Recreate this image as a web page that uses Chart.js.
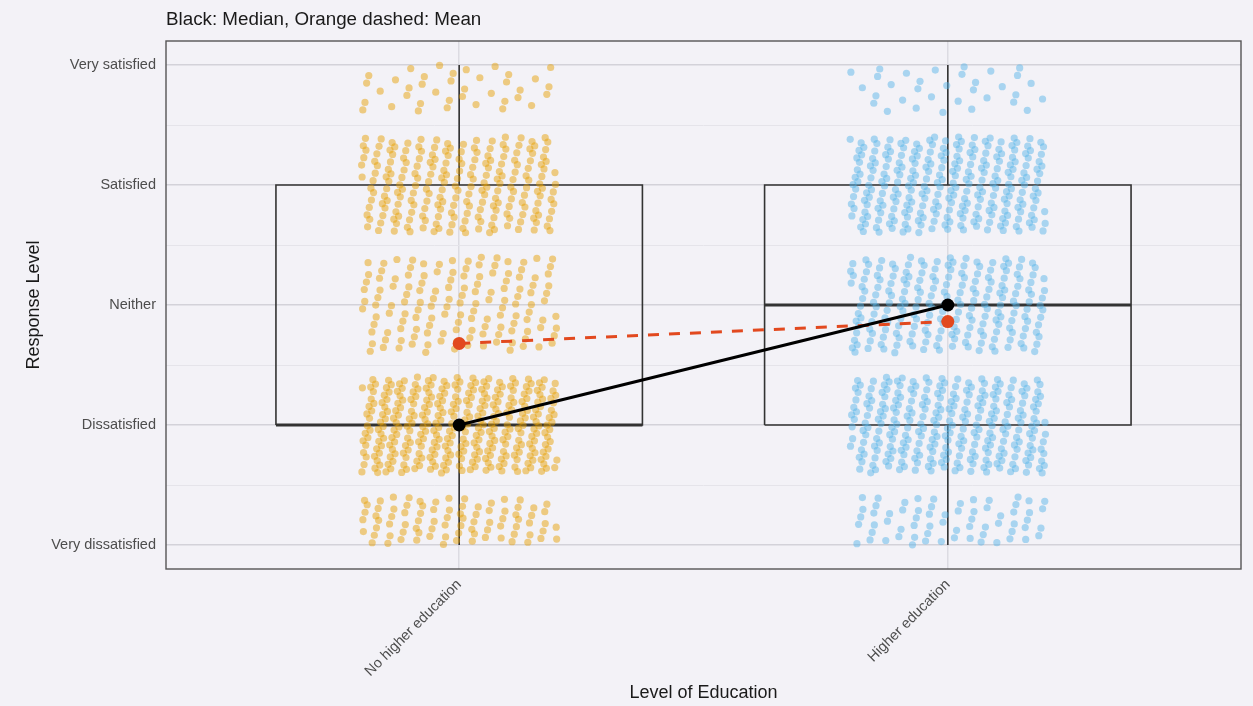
<!DOCTYPE html>
<html>
<head>
<meta charset="utf-8">
<title>Response Level by Level of Education</title>
<script src="https://cdn.jsdelivr.net/npm/chart.js@4.4.1/dist/chart.umd.min.js"></script>
<style>
  html, body { margin: 0; padding: 0; background: #f3f2f7; }
  #wrap { width: 1253px; height: 706px; }
</style>
</head>
<body>
<div id="wrap"><canvas id="eduChart" width="1253" height="706"></canvas></div>
<script>
// --- data ---
const categories = ['No higher education', 'Higher education'];
const levels = ['Very dissatisfied', 'Dissatisfied', 'Neither', 'Satisfied', 'Very satisfied'];
// respondents per response level (estimated from point density, mean and median)
const countsNoHigher = [170, 330, 140, 220, 75];
const countsHigher = [125, 275, 210, 265, 65];
const groupCounts = [countsNoHigher, countsHigher];

const titleText = 'Black: Median, Orange dashed: Mean';
const pointColors = ['rgba(230, 159, 0, 0.48)', 'rgba(86, 180, 233, 0.48)'];
const meanColor = '#e2491f';
const boxColor = '#333333';

// expand counts into individual answers (1..5)
function expand(counts) {
    const out = [];
    counts.forEach((n, i) => { for (let k = 0; k < n; k++) out.push(i + 1); });
    return out;
}

// quantile type 7 (same as R default)
function quantile(sorted, p) {
    const h = (sorted.length - 1) * p;
    const lo = Math.floor(h);
    const hi = Math.min(lo + 1, sorted.length - 1);
    return sorted[lo] + (h - lo) * (sorted[hi] - sorted[lo]);
}

const stats = groupCounts.map(counts => {
    const vals = expand(counts);
    const q1 = quantile(vals, 0.25);
    const med = quantile(vals, 0.5);
    const q3 = quantile(vals, 0.75);
    const iqr = q3 - q1;
    const lo = Math.min(...vals.filter(v => v >= q1 - 1.5 * iqr));
    const hi = Math.max(...vals.filter(v => v <= q3 + 1.5 * iqr));
    const mean = vals.reduce((a, b) => a + b, 0) / vals.length;
    return { vals, q1, med, q3, lo, hi, mean };
});

// jitter is only a display spread: a fixed low-discrepancy sequence, no randomness
const jitterW = 0.2, jitterH = 0.4;
let seq = 0;
function nextJitter() {
    seq++;
    const u = (0.5 + 0.7548776662466927 * seq) % 1;
    const v = (0.5 + 0.5698402909980532 * seq) % 1;
    return [(u * 2 - 1) * jitterW, (v * 2 - 1) * jitterH];
}

const pointSets = stats.map((s, gi) => {
    const pts = [];
    s.vals.forEach(v => {
        const [dx, dy] = nextJitter();
        const y = v + dy;
        if (y >= 1 && y <= 5) pts.push({ x: gi + 1 + dx, y: y });
    });
    return pts;
});

const halfBox = 0.375;
const datasets = [];

stats.forEach((s, gi) => {
    const c = gi + 1;
    // box outline + whiskers (null breaks the line)
    datasets.push({
        data: [
            { x: c - halfBox, y: s.q1 }, { x: c + halfBox, y: s.q1 },
            { x: c + halfBox, y: s.q3 }, { x: c - halfBox, y: s.q3 },
            { x: c - halfBox, y: s.q1 }, { x: c, y: null },
            { x: c, y: s.q3 }, { x: c, y: s.hi }, { x: c, y: null },
            { x: c, y: s.lo }, { x: c, y: s.q1 }
        ],
        showLine: true, spanGaps: false, pointRadius: 0,
        borderColor: boxColor, borderWidth: 1.6, order: 4
    });
    datasets.push({
        data: [{ x: c - halfBox, y: s.med }, { x: c + halfBox, y: s.med }],
        showLine: true, pointRadius: 0,
        borderColor: boxColor, borderWidth: 3, order: 4
    });
});

pointSets.forEach((pts, gi) => {
    datasets.push({
        data: pts,
        pointRadius: 3.6,
        backgroundColor: pointColors[gi],
        borderWidth: 0,
        order: 3
    });
});

datasets.push({
    data: stats.map((s, gi) => ({ x: gi + 1, y: s.mean })),
    showLine: true,
    borderColor: meanColor, borderWidth: 3, borderDash: [11, 10],
    pointRadius: 6.5, pointBackgroundColor: meanColor, pointBorderWidth: 0,
    order: 1
});
datasets.push({
    data: stats.map((s, gi) => ({ x: gi + 1, y: s.med })),
    showLine: true,
    borderColor: '#000000', borderWidth: 3,
    pointRadius: 6.5, pointBackgroundColor: '#000000', pointBorderWidth: 0,
    order: 0
});

const framePlugin = {
    id: 'frame',
    afterDraw(chart) {
        const { ctx, chartArea: a } = chart;
        ctx.save();
        ctx.strokeStyle = '#555555';
        ctx.lineWidth = 1.4;
        ctx.strokeRect(a.left, a.top, a.right - a.left, a.bottom - a.top);
        ctx.fillStyle = '#1a1a1a';
        ctx.font = '18.8px "Liberation Sans", Arial, sans-serif';
        ctx.textBaseline = 'middle';
        ctx.textAlign = 'left';
        ctx.fillText(titleText, a.left, 20);
        ctx.restore();
    }
};

Chart.defaults.font.family = '"Liberation Sans", Arial, sans-serif';

new Chart(document.getElementById('eduChart').getContext('2d'), {
    type: 'scatter',
    data: { datasets: datasets },
    options: {
        responsive: false,
        animation: false,
        events: [],
        layout: { padding: { top: 41, right: 12, left: 0, bottom: 0 } },
        plugins: { legend: { display: false }, tooltip: { enabled: false } },
        scales: {
            x: {
                type: 'linear', min: 0.4, max: 2.6,
                afterBuildTicks: s => { s.ticks = categories.map((c, i) => ({ value: i + 1 })); },
                afterFit: s => { s.height = 137; },
                grid: { color: '#dcdbe2', lineWidth: 1.5, drawTicks: false },
                border: { display: false },
                ticks: {
                    autoSkip: false, minRotation: 45, maxRotation: 45, padding: 7,
                    color: '#4d4d4d', font: { size: 14.5 },
                    callback: (v, i) => categories[i]
                },
                title: {
                    display: true, text: 'Level of Education', color: '#1a1a1a',
                    font: { size: 18 }, padding: { top: 0, bottom: 2 }
                }
            },
            y: {
                type: 'linear', min: 0.8, max: 5.2,
                afterBuildTicks: s => {
                    const t = [];
                    levels.forEach((l, i) => {
                        t.push({ value: i + 1 });
                        if (i < levels.length - 1) t.push({ value: i + 1.5 });
                    });
                    s.ticks = t;
                },
                afterFit: s => { s.width = 166; },
                grid: {
                    drawTicks: false,
                    color: c => Number.isInteger(c.tick.value) ? '#d3d2d9' : '#e5e4ea',
                    lineWidth: c => Number.isInteger(c.tick.value) ? 1.6 : 1
                },
                border: { display: false },
                ticks: {
                    autoSkip: false, padding: 10, color: '#4d4d4d', font: { size: 14.5 },
                    callback: v => Number.isInteger(v) ? levels[v - 1] : ''
                },
                title: {
                    display: true, text: 'Response Level', color: '#1a1a1a',
                    font: { size: 18 }, padding: { top: 23, bottom: 0 }
                }
            }
        }
    },
    plugins: [framePlugin]
});
</script>
</body>
</html>
